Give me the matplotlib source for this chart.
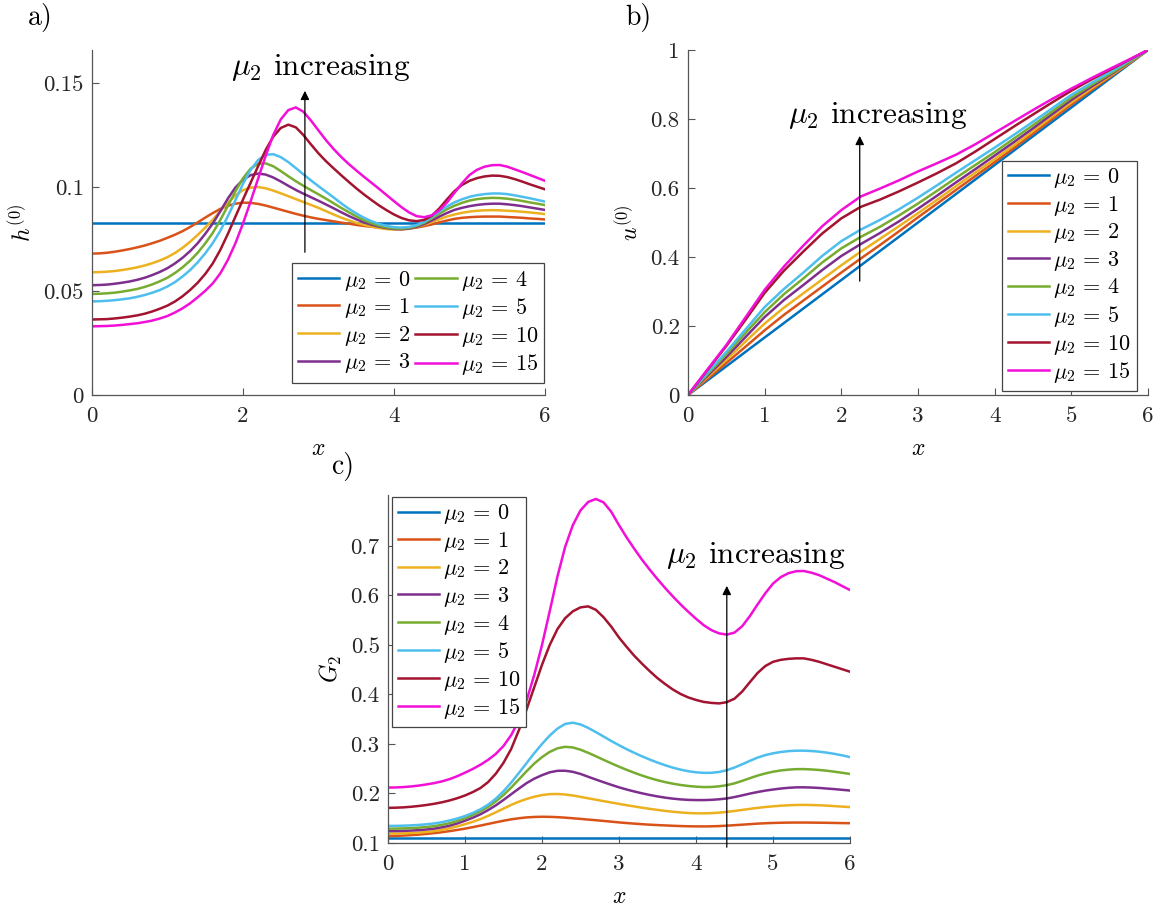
import matplotlib
matplotlib.use("Agg")
import matplotlib.pyplot as plt

plt.rcParams['font.family'] = 'serif'
plt.rcParams['font.serif'] = ['cmr10', 'DejaVu Serif']
plt.rcParams['mathtext.fontset'] = 'cm'
plt.rcParams['axes.unicode_minus'] = False

mu_values = [0, 1, 2, 3, 4, 5, 10, 15]
colors = ['#0072BD', '#D95319', '#EDB120', '#7E2F8E', '#77AC30', '#4DBEEE', '#A2142F', '#F20FD8']
legend_labels = [r'$\mu_2 \,=\, %d$' % m for m in mu_values]

# common x grid for panels a and c (step 0.1)
x_a = [0.0, 0.1, 0.2, 0.3, 0.4, 0.5, 0.6, 0.7, 0.8, 0.9, 1.0, 1.1, 1.2, 1.3, 1.4, 1.5,
       1.6, 1.7, 1.8, 1.9, 2.0, 2.1, 2.2, 2.3, 2.4, 2.5, 2.6, 2.7, 2.8, 2.9, 3.0, 3.1,
       3.2, 3.3, 3.4, 3.5, 3.6, 3.7, 3.8, 3.9, 4.0, 4.1, 4.2, 4.3, 4.4, 4.5, 4.6, 4.7,
       4.8, 4.9, 5.0, 5.1, 5.2, 5.3, 5.4, 5.5, 5.6, 5.7, 5.8, 5.9, 6.0]

# ---------- panel a : h^(0) ----------
h_mu0 = [0.0827] * 61
h_mu1 = [0.0680, 0.0681, 0.0684, 0.0689, 0.0695, 0.0702, 0.0710, 0.0719, 0.0730, 0.0742,
         0.0756, 0.0771, 0.0788, 0.0808, 0.0830, 0.0853, 0.0875, 0.0895, 0.0910, 0.0920,
         0.0925, 0.0924, 0.0919, 0.0911, 0.0901, 0.0891, 0.0881, 0.0871, 0.0862, 0.0854,
         0.0847, 0.0841, 0.0835, 0.0829, 0.0824, 0.0818, 0.0813, 0.0809, 0.0805, 0.0802,
         0.0800, 0.0799, 0.0801, 0.0805, 0.0812, 0.0820, 0.0830, 0.0839, 0.0847, 0.0852,
         0.0855, 0.0857, 0.0858, 0.0858, 0.0858, 0.0856, 0.0854, 0.0852, 0.0849, 0.0847,
         0.0844]
h_mu2 = [0.0590, 0.0591, 0.0593, 0.0596, 0.0601, 0.0607, 0.0614, 0.0623, 0.0634, 0.0647,
         0.0663, 0.0683, 0.0708, 0.0737, 0.0770, 0.0805, 0.0843, 0.0885, 0.0925, 0.0960,
         0.0985, 0.0997, 0.1000, 0.0994, 0.0983, 0.0970, 0.0956, 0.0942, 0.0928, 0.0914,
         0.0900, 0.0884, 0.0868, 0.0853, 0.0840, 0.0828, 0.0818, 0.0810, 0.0803, 0.0798,
         0.0796, 0.0796, 0.0800, 0.0808, 0.0818, 0.0831, 0.0845, 0.0858, 0.0868, 0.0876,
         0.0882, 0.0886, 0.0888, 0.0889, 0.0888, 0.0886, 0.0884, 0.0881, 0.0878, 0.0874,
         0.0870]
h_mu3 = [0.0528, 0.0529, 0.0531, 0.0535, 0.0540, 0.0546, 0.0554, 0.0564, 0.0577, 0.0592,
         0.0610, 0.0633, 0.0660, 0.0692, 0.0730, 0.0775, 0.0825, 0.0884, 0.0945, 0.0998,
         0.1035, 0.1057, 0.1065, 0.1060, 0.1046, 0.1027, 0.1006, 0.0986, 0.0968, 0.0951,
         0.0934, 0.0916, 0.0898, 0.0879, 0.0861, 0.0845, 0.0831, 0.0819, 0.0810, 0.0803,
         0.0798, 0.0797, 0.0800, 0.0809, 0.0822, 0.0839, 0.0858, 0.0875, 0.0890, 0.0900,
         0.0908, 0.0914, 0.0918, 0.0920, 0.0920, 0.0917, 0.0913, 0.0908, 0.0902, 0.0896,
         0.0890]
h_mu4 = [0.0486, 0.0487, 0.0489, 0.0492, 0.0497, 0.0503, 0.0510, 0.0520, 0.0532, 0.0547,
         0.0564, 0.0587, 0.0614, 0.0646, 0.0684, 0.0729, 0.0780, 0.0842, 0.0910, 0.0980,
         0.1042, 0.1088, 0.1112, 0.1114, 0.1100, 0.1077, 0.1052, 0.1028, 0.1006, 0.0985,
         0.0965, 0.0944, 0.0922, 0.0900, 0.0879, 0.0859, 0.0841, 0.0826, 0.0814, 0.0806,
         0.0801, 0.0800, 0.0803, 0.0813, 0.0828, 0.0849, 0.0872, 0.0893, 0.0910, 0.0924,
         0.0935, 0.0942, 0.0946, 0.0948, 0.0947, 0.0944, 0.0939, 0.0933, 0.0926, 0.0920,
         0.0913]
h_mu5 = [0.0450, 0.0451, 0.0453, 0.0456, 0.0460, 0.0465, 0.0472, 0.0481, 0.0492, 0.0505,
         0.0522, 0.0543, 0.0570, 0.0601, 0.0638, 0.0681, 0.0731, 0.0790, 0.0860, 0.0937,
         0.1015, 0.1082, 0.1130, 0.1155, 0.1158, 0.1144, 0.1120, 0.1091, 0.1061, 0.1032,
         0.1004, 0.0977, 0.0950, 0.0922, 0.0896, 0.0873, 0.0853, 0.0836, 0.0823, 0.0813,
         0.0807, 0.0805, 0.0808, 0.0817, 0.0833, 0.0856, 0.0882, 0.0906, 0.0926, 0.0941,
         0.0953, 0.0961, 0.0966, 0.0969, 0.0969, 0.0966, 0.0960, 0.0953, 0.0946, 0.0938,
         0.0930]
h_mu10 = [0.0363, 0.0364, 0.0365, 0.0368, 0.0372, 0.0377, 0.0383, 0.0391, 0.0402, 0.0415,
          0.0430, 0.0450, 0.0475, 0.0505, 0.0540, 0.0582, 0.0633, 0.0698, 0.0775, 0.0858,
          0.0940, 0.1020, 0.1100, 0.1178, 0.1242, 0.1284, 0.1300, 0.1287, 0.1250, 0.1205,
          0.1162, 0.1124, 0.1090, 0.1057, 0.1025, 0.0994, 0.0965, 0.0938, 0.0912, 0.0889,
          0.0868, 0.0851, 0.0840, 0.0836, 0.0842, 0.0862, 0.0897, 0.0940, 0.0980, 0.1010,
          0.1030, 0.1043, 0.1051, 0.1055, 0.1054, 0.1048, 0.1038, 0.1026, 0.1013, 0.1001,
          0.0989]
h_mu15 = [0.0330, 0.0331, 0.0332, 0.0334, 0.0337, 0.0341, 0.0345, 0.0351, 0.0358, 0.0368,
          0.0380, 0.0397, 0.0417, 0.0441, 0.0470, 0.0501, 0.0537, 0.0585, 0.0650, 0.0730,
          0.0825, 0.0930, 0.1040, 0.1150, 0.1250, 0.1325, 0.1370, 0.1383, 0.1362, 0.1320,
          0.1272, 0.1225, 0.1183, 0.1145, 0.1111, 0.1080, 0.1050, 0.1021, 0.0992, 0.0962,
          0.0932, 0.0903, 0.0878, 0.0860, 0.0855, 0.0864, 0.0888, 0.0925, 0.0972, 0.1018,
          0.1058, 0.1083, 0.1098, 0.1105, 0.1106, 0.1098, 0.1085, 0.1072, 0.1058, 0.1044,
          0.1030]
h_series = [h_mu0, h_mu1, h_mu2, h_mu3, h_mu4, h_mu5, h_mu10, h_mu15]

# ---------- panel b : u^(0) ----------
x_b = [0.0, 0.25, 0.5, 0.75, 1.0, 1.25, 1.5, 1.75, 2.0, 2.25, 2.5, 2.75, 3.0, 3.25, 3.5,
       3.75, 4.0, 4.25, 4.5, 4.75, 5.0, 5.25, 5.5, 5.75, 6.0]
u_mu0 = [0.0, 0.0417, 0.0833, 0.125, 0.1667, 0.2083, 0.25, 0.2917, 0.3333, 0.375, 0.4167,
         0.4583, 0.5, 0.5417, 0.5833, 0.625, 0.6667, 0.7083, 0.75, 0.7917, 0.8333, 0.875,
         0.9167, 0.9583, 1.0]
u_mu1 = [0.0, 0.046, 0.093, 0.140, 0.1875, 0.232, 0.273, 0.314, 0.355, 0.395, 0.434, 0.474,
         0.515, 0.555, 0.595, 0.635, 0.675, 0.716, 0.758, 0.800, 0.842, 0.882, 0.921, 0.961,
         1.0]
u_mu2 = [0.0, 0.051, 0.102, 0.155, 0.207, 0.253, 0.294, 0.335, 0.376, 0.415, 0.452, 0.489,
         0.527, 0.566, 0.606, 0.645, 0.684, 0.724, 0.765, 0.807, 0.848, 0.887, 0.924, 0.962,
         1.0]
u_mu3 = [0.0, 0.055, 0.110, 0.168, 0.226, 0.275, 0.318, 0.362, 0.403, 0.437, 0.469, 0.503,
         0.540, 0.578, 0.617, 0.655, 0.694, 0.733, 0.773, 0.814, 0.855, 0.892, 0.927, 0.964,
         1.0]
u_mu4 = [0.0, 0.059, 0.118, 0.180, 0.240, 0.292, 0.337, 0.384, 0.425, 0.458, 0.487, 0.520,
         0.555, 0.592, 0.630, 0.667, 0.704, 0.743, 0.782, 0.822, 0.862, 0.897, 0.930, 0.965,
         1.0]
u_mu5 = [0.0, 0.063, 0.125, 0.190, 0.255, 0.307, 0.354, 0.403, 0.446, 0.479, 0.507, 0.538,
         0.572, 0.608, 0.645, 0.681, 0.717, 0.754, 0.792, 0.831, 0.870, 0.903, 0.935, 0.968,
         1.0]
u_mu10 = [0.0, 0.071, 0.142, 0.218, 0.296, 0.360, 0.415, 0.468, 0.512, 0.545, 0.566, 0.590,
          0.616, 0.643, 0.672, 0.706, 0.742, 0.778, 0.813, 0.848, 0.882, 0.913, 0.942, 0.971,
          1.0]
u_mu15 = [0.0, 0.073, 0.145, 0.225, 0.305, 0.372, 0.432, 0.489, 0.536, 0.575, 0.598, 0.622,
          0.648, 0.672, 0.697, 0.727, 0.760, 0.793, 0.826, 0.858, 0.888, 0.917, 0.945, 0.972,
          1.0]
u_series = [u_mu0, u_mu1, u_mu2, u_mu3, u_mu4, u_mu5, u_mu10, u_mu15]

# ---------- panel c : G_2 ----------
x_c = x_a
g_mu0 = [0.1095] * 61
g_mu1 = [0.1140, 0.1143, 0.1150, 0.1159, 0.1170, 0.1184, 0.1200, 0.1218, 0.1240, 0.1264,
         0.1290, 0.1320, 0.1352, 0.1385, 0.1418, 0.1450, 0.1478, 0.1500, 0.1517, 0.1526,
         0.1530, 0.1528, 0.1522, 0.1512, 0.1500, 0.1487, 0.1473, 0.1460, 0.1446, 0.1431,
         0.1416, 0.1403, 0.1391, 0.1380, 0.1370, 0.1362, 0.1355, 0.1348, 0.1342, 0.1338,
         0.1336, 0.1335, 0.1337, 0.1342, 0.1350, 0.1360, 0.1370, 0.1381, 0.1391, 0.1399,
         0.1405, 0.1409, 0.1412, 0.1413, 0.1413, 0.1412, 0.1410, 0.1408, 0.1405, 0.1402,
         0.1400]
g_mu2 = [0.1190, 0.1191, 0.1195, 0.1201, 0.1210, 0.1222, 0.1240, 0.1265, 0.1298, 0.1336,
         0.1380, 0.1428, 0.1482, 0.1548, 0.1620, 0.1695, 0.1770, 0.1835, 0.1890, 0.1935,
         0.1968, 0.1987, 0.1990, 0.1980, 0.1960, 0.1932, 0.1903, 0.1874, 0.1846, 0.1818,
         0.1790, 0.1763, 0.1738, 0.1713, 0.1690, 0.1668, 0.1648, 0.1631, 0.1617, 0.1606,
         0.1600, 0.1599, 0.1603, 0.1613, 0.1628, 0.1647, 0.1668, 0.1690, 0.1710, 0.1727,
         0.1741, 0.1753, 0.1762, 0.1768, 0.1770, 0.1767, 0.1762, 0.1755, 0.1745, 0.1735,
         0.1725]
g_mu3 = [0.1240, 0.1241, 0.1245, 0.1251, 0.1260, 0.1273, 0.1290, 0.1317, 0.1350, 0.1395,
         0.1450, 0.1510, 0.1580, 0.1665, 0.1760, 0.1870, 0.1985, 0.2100, 0.2210, 0.2300,
         0.2370, 0.2428, 0.2458, 0.2460, 0.2438, 0.2395, 0.2338, 0.2282, 0.2228, 0.2175,
         0.2125, 0.2080, 0.2040, 0.2003, 0.1970, 0.1941, 0.1916, 0.1896, 0.1881, 0.1871,
         0.1867, 0.1867, 0.1872, 0.1883, 0.1900, 0.1928, 0.1962, 0.1998, 0.2030, 0.2058,
         0.2080, 0.2100, 0.2115, 0.2124, 0.2125, 0.2120, 0.2112, 0.2100, 0.2088, 0.2074,
         0.2060]
g_mu4 = [0.1290, 0.1291, 0.1295, 0.1301, 0.1310, 0.1323, 0.1340, 0.1367, 0.1400, 0.1445,
         0.1500, 0.1565, 0.1640, 0.1730, 0.1840, 0.1970, 0.2120, 0.2285, 0.2450, 0.2605,
         0.2735, 0.2840, 0.2912, 0.2943, 0.2930, 0.2885, 0.2822, 0.2752, 0.2680, 0.2610,
         0.2542, 0.2478, 0.2418, 0.2362, 0.2312, 0.2268, 0.2230, 0.2198, 0.2172, 0.2152,
         0.2138, 0.2130, 0.2132, 0.2145, 0.2168, 0.2205, 0.2255, 0.2310, 0.2362, 0.2405,
         0.2440, 0.2465, 0.2482, 0.2492, 0.2493, 0.2486, 0.2475, 0.2460, 0.2440, 0.2418,
         0.2395]
g_mu5 = [0.1345, 0.1346, 0.1350, 0.1356, 0.1365, 0.1378, 0.1395, 0.1420, 0.1455, 0.1495,
         0.1545, 0.1605, 0.1680, 0.1775, 0.1895, 0.2045, 0.2220, 0.2415, 0.2615, 0.2815,
         0.3000, 0.3170, 0.3310, 0.3405, 0.3430, 0.3395, 0.3325, 0.3240, 0.3150, 0.3060,
         0.2975, 0.2895, 0.2820, 0.2750, 0.2685, 0.2625, 0.2570, 0.2522, 0.2482, 0.2450,
         0.2428, 0.2417, 0.2418, 0.2435, 0.2470, 0.2525, 0.2590, 0.2660, 0.2725, 0.2775,
         0.2812, 0.2838, 0.2856, 0.2865, 0.2865, 0.2858, 0.2845, 0.2825, 0.2800, 0.2770,
         0.2735]
g_mu10 = [0.1710, 0.1713, 0.1720, 0.1732, 0.1748, 0.1768, 0.1792, 0.1822, 0.1860, 0.1905,
          0.1960, 0.2028, 0.2110, 0.2230, 0.2400, 0.2620, 0.2900, 0.3280, 0.3700, 0.4150,
          0.4600, 0.5000, 0.5320, 0.5540, 0.5680, 0.5760, 0.5780, 0.5710, 0.5560, 0.5370,
          0.5150, 0.4960, 0.4780, 0.4620, 0.4470, 0.4330, 0.4210, 0.4100, 0.4010, 0.3940,
          0.3890, 0.3850, 0.3830, 0.3820, 0.3845, 0.3915, 0.4060, 0.4250, 0.4435, 0.4575,
          0.4660, 0.4700, 0.4720, 0.4730, 0.4730, 0.4700, 0.4660, 0.4610, 0.4560, 0.4510,
          0.4460]
g_mu15 = [0.2120, 0.2122, 0.2130, 0.2142, 0.2160, 0.2183, 0.2210, 0.2245, 0.2290, 0.2350,
          0.2420, 0.2495, 0.2580, 0.2680, 0.2800, 0.2960, 0.3180, 0.3480, 0.3880, 0.4400,
          0.5000, 0.5680, 0.6380, 0.6980, 0.7420, 0.7720, 0.7890, 0.7950, 0.7880, 0.7690,
          0.7420, 0.7170, 0.6940, 0.6720, 0.6520, 0.6330, 0.6150, 0.5980, 0.5820, 0.5670,
          0.5530, 0.5400, 0.5300, 0.5235, 0.5210, 0.5250, 0.5380, 0.5585, 0.5820, 0.6045,
          0.6240, 0.6370, 0.6450, 0.6490, 0.6495, 0.6460, 0.6410, 0.6340, 0.6270, 0.6190,
          0.6110]
g_series = [g_mu0, g_mu1, g_mu2, g_mu3, g_mu4, g_mu5, g_mu10, g_mu15]

# tick labels
a_xticks = [0, 2, 4, 6]
a_yticks = [0, 0.05, 0.1, 0.15]
a_yticklabels = ['0', '0.05', '0.1', '0.15']
b_xticks = [0, 1, 2, 3, 4, 5, 6]
b_yticks = [0, 0.2, 0.4, 0.6, 0.8, 1.0]
b_yticklabels = ['0', '0.2', '0.4', '0.6', '0.8', '1']
c_xticks = [0, 1, 2, 3, 4, 5, 6]
c_yticks = [0.1, 0.2, 0.3, 0.4, 0.5, 0.6, 0.7]
c_yticklabels = ['0.1', '0.2', '0.3', '0.4', '0.5', '0.6', '0.7']

W, H = 1165, 906
fig = plt.figure(figsize=(W / 100, H / 100), dpi=100)

def px_axes(l, t, r, b):
    return fig.add_axes([l / W, 1 - b / H, (r - l) / W, (b - t) / H])

ax_a = px_axes(92, 50, 545, 395)
ax_b = px_axes(688, 50, 1148, 395)
ax_c = px_axes(388, 495, 850, 843)

TICK_FS = 16.5
LEG_FS = 16
TXT_FS = 22.5
LAB_FS = 17
AX_COLOR = '#262626'
LW = 1.8

def style(ax, xticks, yticks, yticklabels, xlim, ylim):
    ax.set_xlim(*xlim)
    ax.set_ylim(*ylim)
    ax.set_xticks(xticks)
    ax.set_xticklabels([str(t) for t in xticks])
    ax.set_yticks(yticks)
    ax.set_yticklabels(yticklabels)
    for s in ['top', 'right']:
        ax.spines[s].set_visible(False)
    for s in ['left', 'bottom']:
        ax.spines[s].set_color('#555555')
        ax.spines[s].set_linewidth(0.9)
    ax.tick_params(direction='in', length=5, width=0.8, color='#555555',
                   labelsize=TICK_FS, labelcolor=AX_COLOR)
    ax.tick_params(axis='x', pad=8)
    ax.tick_params(axis='y', pad=6)

def legend(ax, ncol, loc, anchor):
    leg = ax.legend(ncol=ncol, loc=loc, bbox_to_anchor=anchor, fontsize=LEG_FS,
                    frameon=True, fancybox=False, framealpha=1, edgecolor='#444444',
                    handlelength=1.85, handletextpad=0.2, labelspacing=0.16,
                    borderpad=0.25, borderaxespad=0, columnspacing=0.25)
    leg.get_frame().set_linewidth(0.9)
    return leg

# panel a
for ys, c, lab in zip(h_series, colors, legend_labels):
    ax_a.plot(x_a, ys, color=c, lw=LW, label=lab)
style(ax_a, a_xticks, a_yticks, a_yticklabels, (0, 6), (0, 0.1659))
legend(ax_a, 2, 'lower right', (0.998, 0.035))
ax_a.set_xlabel(r'$x$', fontsize=LAB_FS, labelpad=9)
ax_a.set_ylabel(r'$h^{(0)}$', fontsize=LAB_FS, labelpad=5)
ax_a.annotate('', xy=(2.82, 0.1476), xytext=(2.82, 0.0673),
              arrowprops=dict(arrowstyle='-|>', color='k', lw=0.9, mutation_scale=13))
ax_a.text(3.03, 0.1575, r'$\mu_2$ increasing', fontsize=TXT_FS, ha='center', va='center')

# panel b
for ys, c, lab in zip(u_series, colors, legend_labels):
    ax_b.plot(x_b, ys, color=c, lw=LW, label=lab)
style(ax_b, b_xticks, b_yticks, b_yticklabels, (0, 6), (0, 1))
legend(ax_b, 1, 'lower right', (0.975, 0.0125))
ax_b.set_xlabel(r'$x$', fontsize=LAB_FS, labelpad=9)
ax_b.set_ylabel(r'$u^{(0)}$', fontsize=LAB_FS, labelpad=5)
ax_b.annotate('', xy=(2.24, 0.759), xytext=(2.24, 0.322),
              arrowprops=dict(arrowstyle='-|>', color='k', lw=0.9, mutation_scale=13))
ax_b.text(2.48, 0.81, r'$\mu_2$ increasing', fontsize=TXT_FS, ha='center', va='center')

# panel c
for ys, c, lab in zip(g_series, colors, legend_labels):
    ax_c.plot(x_c, ys, color=c, lw=LW, label=lab)
style(ax_c, c_xticks, c_yticks, c_yticklabels, (0, 6), (0.1, 0.803))
legend(ax_c, 1, 'upper left', (0.009, 0.995))
ax_c.set_xlabel(r'$x$', fontsize=LAB_FS, labelpad=9)
ax_c.set_ylabel(r'$G_2$', fontsize=LAB_FS, labelpad=5)
ax_c.annotate('', xy=(4.40, 0.625), xytext=(4.40, 0.0859),
              arrowprops=dict(arrowstyle='-|>', color='k', lw=0.9, mutation_scale=13),
              annotation_clip=False)
ax_c.text(4.78, 0.68, r'$\mu_2$ increasing', fontsize=TXT_FS, ha='center', va='center')

# panel labels
fig.text(40 / W, 1 - 18 / H, 'a)', fontsize=20, ha='center', va='center')
fig.text(638 / W, 1 - 18 / H, 'b)', fontsize=20, ha='center', va='center')
fig.text(343 / W, 1 - 467 / H, 'c)', fontsize=20, ha='center', va='center')

fig.savefig('out.png', dpi=100)
